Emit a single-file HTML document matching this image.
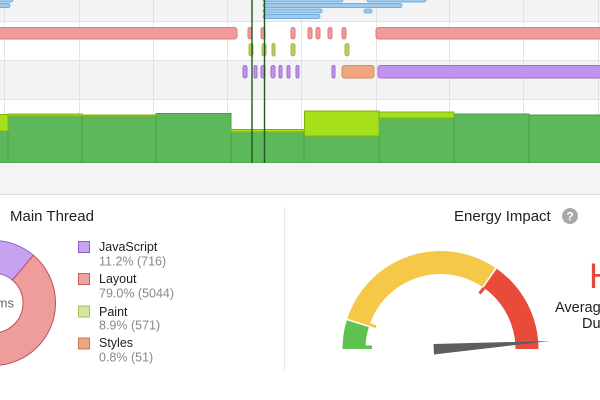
<!DOCTYPE html>
<html><head><meta charset="utf-8"><style>
html,body{margin:0;padding:0;background:#fff;}
svg{display:block;font-family:"Liberation Sans",Arial,sans-serif;}
</style></head><body>
<svg width="600" height="400" viewBox="0 0 600 400" xmlns="http://www.w3.org/2000/svg">
<!-- timeline rows -->
<rect x="0" y="0" width="600" height="21" fill="#f3f3f3"/>
<rect x="0" y="21" width="600" height="39" fill="#ffffff"/>
<rect x="0" y="60" width="600" height="39" fill="#f3f3f3"/>
<rect x="0" y="99" width="600" height="64" fill="#ffffff"/>
<g stroke="#e2e2e2" stroke-width="1">
<line x1="0" y1="21.5" x2="600" y2="21.5"/>
<line x1="0" y1="60.5" x2="600" y2="60.5"/>
<line x1="0" y1="99.5" x2="600" y2="99.5"/>
<line x1="4.5" y1="0" x2="4.5" y2="163"/>
<line x1="79.5" y1="0" x2="79.5" y2="163"/>
<line x1="153.5" y1="0" x2="153.5" y2="163"/>
<line x1="227.5" y1="0" x2="227.5" y2="163"/>
<line x1="301.5" y1="0" x2="301.5" y2="163"/>
<line x1="376.5" y1="0" x2="376.5" y2="163"/>
<line x1="449.5" y1="0" x2="449.5" y2="163"/>
<line x1="523.5" y1="0" x2="523.5" y2="163"/>
<line x1="598.5" y1="0" x2="598.5" y2="163"/>
</g>
<!-- blue bars -->
<g fill="#9ccbf1" stroke="#5d9fd4" stroke-width="0.8">
<rect x="-5" y="-2" width="18" height="4" rx="2"/>
<rect x="-5" y="3.5" width="15" height="4" rx="2"/>
<rect x="263" y="-2" width="80" height="4" rx="2"/>
<rect x="367" y="-2" width="59" height="4" rx="2"/>
<rect x="263" y="3.5" width="139" height="4" rx="2"/>
<rect x="263" y="9" width="59" height="4" rx="2"/>
<rect x="364" y="9" width="8" height="4" rx="2"/>
<rect x="263" y="14.5" width="57" height="4" rx="2"/>
</g>
<!-- layout row -->
<g fill="#ef9b9b" stroke="#dd7a7a" stroke-width="1">
<rect x="-3" y="27.5" width="240" height="11.5" rx="2.5"/>
<rect x="248" y="27.5" width="4" height="11.5" rx="2"/>
<rect x="261" y="27.5" width="4" height="11.5" rx="2"/>
<rect x="291" y="27.5" width="4" height="11.5" rx="2"/>
<rect x="308" y="27.5" width="4" height="11.5" rx="2"/>
<rect x="316" y="27.5" width="4" height="11.5" rx="2"/>
<rect x="328" y="27.5" width="4" height="11.5" rx="2"/>
<rect x="342" y="27.5" width="4" height="11.5" rx="2"/>
<rect x="376" y="27.5" width="230" height="11.5" rx="2.5"/>
</g>
<!-- paint row -->
<g fill="#b9cd62" stroke="#a2b84c" stroke-width="1">
<rect x="249" y="43.5" width="4" height="12.5" rx="2"/>
<rect x="262" y="43.5" width="4" height="12.5" rx="2"/>
<rect x="272" y="43.5" width="3" height="12.5" rx="1.5"/>
<rect x="291" y="43.5" width="4" height="12.5" rx="2"/>
<rect x="345" y="43.5" width="4" height="12.5" rx="2"/>
</g>
<!-- js/styles row -->
<g fill="#c192ee" stroke="#9f6fd4" stroke-width="1">
<rect x="243" y="65.5" width="4" height="12.5" rx="2"/>
<rect x="254" y="65.5" width="3" height="12.5" rx="1.5"/>
<rect x="261" y="65.5" width="4" height="12.5" rx="2"/>
<rect x="271" y="65.5" width="4" height="12.5" rx="2"/>
<rect x="279" y="65.5" width="3" height="12.5" rx="1.5"/>
<rect x="287" y="65.5" width="3" height="12.5" rx="1.5"/>
<rect x="296" y="65.5" width="3" height="12.5" rx="1.5"/>
<rect x="332" y="65.5" width="3" height="12.5" rx="1.5"/>
<rect x="378" y="65.5" width="230" height="12.5" rx="2.5"/>
</g>
<rect x="342" y="65.5" width="32" height="12.5" rx="2.5" fill="#eea77e" stroke="#d88a60" stroke-width="1"/>
<!-- green bars -->
<g stroke="#4c9c44" stroke-width="1">
<rect x="-2" y="131" width="10" height="32" fill="#5cb85a"/>
<rect x="8" y="116" width="74" height="47" fill="#5cb85a"/>
<rect x="82" y="116" width="74" height="47" fill="#5cb85a"/>
<rect x="156" y="113.5" width="75" height="49.5" fill="#5cb85a"/>
<rect x="231" y="132" width="73" height="31" fill="#5cb85a"/>
<rect x="304" y="136" width="75" height="27" fill="#5cb85a"/>
<rect x="379" y="118" width="75" height="45" fill="#5cb85a"/>
<rect x="454" y="114" width="75" height="49" fill="#5cb85a"/>
<rect x="529" y="115" width="75" height="48" fill="#5cb85a"/>
</g>
<g fill="#a5e01b" stroke="#7fb313" stroke-width="1">
<rect x="-2" y="114.5" width="10" height="16.5"/>
<rect x="8" y="114" width="74" height="2"/>
<rect x="82" y="115" width="74" height="1.2"/>
<rect x="231" y="129.5" width="73" height="2.5"/>
<rect x="304.5" y="111" width="74.5" height="25"/>
<rect x="379" y="112" width="75" height="6"/>
</g>
<!-- markers -->
<line x1="252" y1="0" x2="252" y2="163" stroke="#1d5a1d" stroke-width="1.4"/>
<line x1="264.5" y1="0" x2="264.5" y2="163" stroke="#1d5a1d" stroke-width="1.4"/>
<!-- gray band -->
<rect x="0" y="163" width="600" height="32" fill="#f4f4f4"/>
<line x1="0" y1="194.5" x2="600" y2="194.5" stroke="#dcdcdc" stroke-width="1"/>

<!-- Main thread -->
<text x="10" y="221" font-size="15" fill="#1e1e1e">Main Thread</text>
<path d="M-7,240.5 A62.5,62.5 0 0 1 33.4,255.3 L12.4,280.1 A30,30 0 0 0 -7,273 Z" fill="#c7a2f1" stroke="#8d5dc0" stroke-width="1"/>
<path d="M33.4,255.3 A62.5,62.5 0 1 1 -43.1,252 L-24.3,278.5 A30,30 0 1 0 12.4,280.1 Z" fill="#ee9c9c" stroke="#b9525b" stroke-width="1"/>
<text x="14" y="307.5" font-size="13" fill="#666" text-anchor="end">6,382 ms</text>

<g stroke-width="1">
<rect x="78.5" y="241.5" width="11" height="11" fill="#c6a2f1" stroke="#8a5cc4"/>
<rect x="78.5" y="273.5" width="11" height="11" fill="#f0a2a2" stroke="#c66060"/>
<rect x="78.5" y="306" width="11" height="11" fill="#d5e6a2" stroke="#a3bd5c"/>
<rect x="78.5" y="338" width="11" height="11" fill="#eba680" stroke="#c27c56"/>
</g>
<g font-size="12.5" fill="#1e1e1e">
<text x="99" y="251">JavaScript</text>
<text x="99" y="283">Layout</text>
<text x="99" y="316">Paint</text>
<text x="99" y="347">Styles</text>
</g>
<g font-size="12.5" fill="#888">
<text x="99" y="265.5">11.2% (716)</text>
<text x="99" y="297.5">79.0% (5044)</text>
<text x="99" y="329.5">8.9% (571)</text>
<text x="99" y="361.5">0.8% (51)</text>
</g>
<line x1="284.5" y1="207" x2="284.5" y2="370" stroke="#e6e6e6" stroke-width="1"/>

<!-- Energy impact -->
<text x="454" y="221" font-size="15" fill="#1e1e1e">Energy Impact</text>
<circle cx="570" cy="216" r="8" fill="#a9a9a9"/>
<text x="570" y="220.5" font-size="12" font-weight="bold" fill="#fff" text-anchor="middle">?</text>

<path d="M342.5,349 A98,98 0 0 1 346.8,320.3 L368.8,327.1 A75,75 0 0 0 365.5,349 Z" fill="#5ec24e"/>
<rect x="365" y="345.5" width="7" height="3.5" fill="#5ec24e"/>
<path d="M347.3,318.7 A98,98 0 0 1 495.3,267.8 L482.4,286.8 A75,75 0 0 0 369.2,325.8 Z" fill="#f5c847"/>
<line x1="369.5" y1="324.5" x2="376" y2="326.8" stroke="#f5c847" stroke-width="3"/>
<path d="M496.7,268.7 A98,98 0 0 1 538.5,349 L515.5,349 A75,75 0 0 0 483.5,287.6 Z" fill="#e94b3b"/>
<line x1="484" y1="288" x2="479.5" y2="293.5" stroke="#e94b3b" stroke-width="3"/>
<polygon points="433.5,344 434,354.5 550,341" fill="#5e5e5e"/>

<text x="589" y="288" font-size="35" fill="#e5473a">High</text>
<text x="555" y="312" font-size="14.5" fill="#1e1e1e">Average Energy Impact</text>
<text x="582" y="328" font-size="14.5" fill="#1e1e1e">During Recording</text>
</svg>
</body></html>
